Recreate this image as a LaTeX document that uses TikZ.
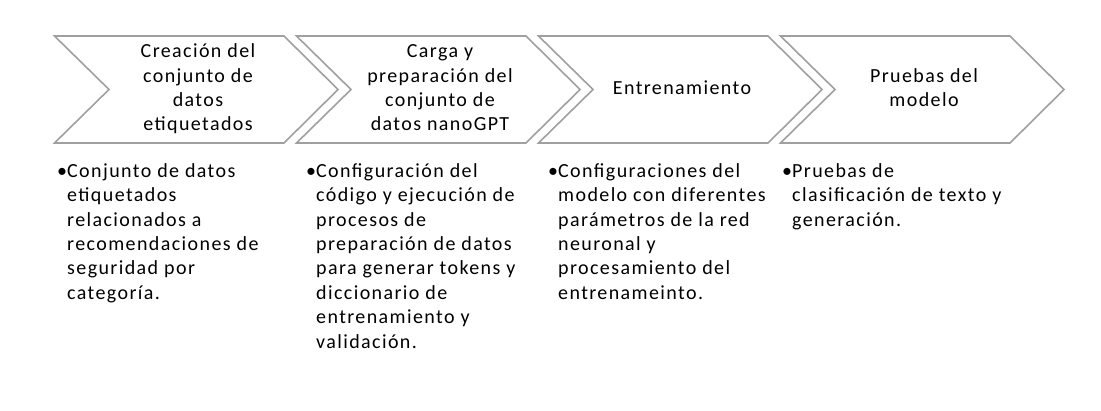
\documentclass[tikz,border=0pt]{standalone}
\usepackage{fontspec}
\setmainfont{Carlito}[LetterSpace=7]
\definecolor{chevgray}{RGB}{160,160,160}
\begin{document}
\begin{tikzpicture}[x=1pt,y=-1pt,
  chev/.style={draw=chevgray, line width=1.6pt, line join=miter},
  head/.style={inner sep=0pt, align=center, font=\fontsize{20}{24.4}\selectfont},
  bul/.style={inner sep=0pt, anchor=north west, align=left, font=\fontsize{20}{24.4}\selectfont}]
\useasboundingbox (0,0) rectangle (1101,411);
\foreach \x in {54.5,296.5,538.5,780.5}{
  \draw[chev] (\x,36) -- (\x+229.5,36) -- (\x+283.5,89.5) -- (\x+229.5,143) -- (\x,143) -- (\x+54.5,89.5) -- cycle;
}
\node[head] (h1) at (198,89.5) {\strut Creación del\\\strut conjunto de\\\strut datos\\\strut etiquetados};
\node[head] (h2) at (440,89.5) {\strut Carga y\\\strut preparación del\\\strut conjunto de\\\strut datos nanoGPT};
\node[head] (h3) at (682,89.5) {\strut Entrenamiento};
\node[head] (h4) at (924,89.5) {\strut Pruebas del\\\strut modelo};
\newcommand{\bl}{\llap{\makebox[10pt][l]{•}}}
\node[bul] (b1) at (67,160) {\strut\bl Conjunto de datos\\etiquetados\\relacionados a\\recomendaciones de\\seguridad por\\categoría.};
\node[bul] (b2) at (316,160) {\strut\bl Configuración del\\código y ejecución de\\procesos de\\preparación de datos\\para generar tokens y\\diccionario de\\entrenamiento y\\validación.};
\node[bul] (b3) at (558,160) {\strut\bl Configuraciones del\\modelo con diferentes\\parámetros de la red\\neuronal y\\procesamiento del\\entrenameinto.};
\node[bul] (b4) at (792,160) {\strut\bl Pruebas de\\clasificación de texto y\\generación.};
\end{tikzpicture}
\end{document}
